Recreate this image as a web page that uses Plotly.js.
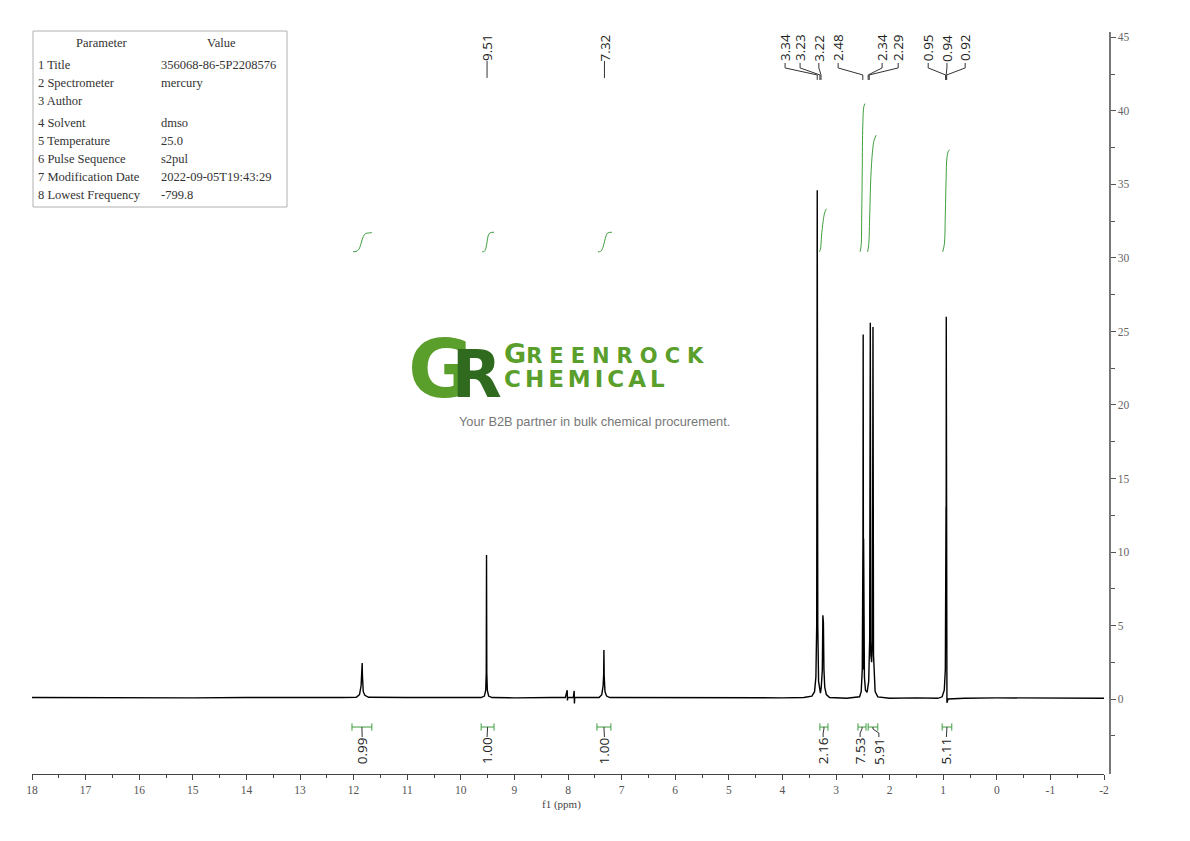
<!DOCTYPE html>
<html><head><meta charset="utf-8">
<script src="https://cdn.plot.ly/plotly-3.0.1.min.js"></script>
<style>html,body{margin:0;padding:0;background:#fff}#chart{width:1190px;height:841px}</style>
</head><body><div id="chart"></div>
<script>
// ---------- spectrum (ppm, intensity) ----------
const shift = [18.0, 17.0, 16.0, 15.0, 14.0, 13.0, 12.2, 11.95, 11.89, 11.86, 11.845, 11.84, 11.835, 11.82, 11.79, 11.72, 11.0, 10.3, 9.62, 9.56, 9.535, 9.525, 9.52, 9.515, 9.505, 9.48, 9.42, 9.0, 8.3, 8.05, 8.015, 8.01, 8.005, 7.9, 7.885, 7.88, 7.875, 7.86, 7.6, 7.42, 7.37, 7.345, 7.335, 7.33, 7.325, 7.31, 7.28, 7.22, 6.0, 5.0, 4.0, 3.6, 3.45, 3.40, 3.375, 3.36, 3.35, 3.34, 3.325, 3.29, 3.275, 3.255, 3.245, 3.24, 3.235, 3.225, 3.21, 3.18, 3.12, 2.8, 2.56, 2.53, 2.51, 2.497, 2.495, 2.493, 2.491, 2.489, 2.487, 2.485, 2.47, 2.45, 2.42, 2.39, 2.372, 2.36, 2.35, 2.335, 2.32, 2.31, 2.30, 2.29, 2.27, 2.22, 2.0, 1.5, 1.1, 1.02, 0.98, 0.96, 0.947, 0.945, 0.943, 0.941, 0.939, 0.937, 0.935, 0.93, 0.91, 0.6, 0.0, -1.0, -2.0];
const intensity = [0.1, 0.08, 0.1, 0.08, 0.1, 0.08, 0.1, 0.12, 0.3, 0.9, 1.6, 2.45, 1.6, 0.5, 0.25, 0.12, 0.1, 0.12, 0.1, 0.2, 0.6, 1.8, 9.8, 1.8, 0.6, 0.2, 0.1, 0.08, 0.1, 0.1, 0.6, -0.1, 0.1, 0.1, 0.55, -0.3, 0.1, 0.1, 0.08, 0.1, 0.3, 0.9, 1.6, 3.33, 1.6, 0.5, 0.2, 0.1, 0.08, 0.1, 0.08, 0.1, 0.2, 0.5, 1.5, 5.0, 34.6, 5.0, 1.2, 0.4, 0.8, 2.0, 5.7, 3.9, 5.2, 2.0, 0.8, 0.3, 0.1, 0.05, 0.15, 0.5, 2.0, 10.9, 2.0, 24.8, 2.5, 15.9, 2.0, 10.9, 1.5, 0.6, 0.45, 1.2, 4.0, 25.6, 3.0, 2.5, 4.0, 25.3, 3.0, 1.5, 0.5, 0.15, 0.05, 0.08, 0.05, 0.15, 0.6, 2.0, 13.1, 6.9, 26.0, 6.9, 13.1, 6.9, 2.0, -0.25, 0.0, 0.05, 0.08, 0.05, 0.05];

// ---------- integral curves (green) ----------
const integralCurveX = [
  [12.01, 11.95, 11.90, 11.86, 11.82, 11.78, 11.72, 11.66],
  [9.60, 9.56, 9.53, 9.51, 9.49, 9.46, 9.38],
  [7.44, 7.39, 7.35, 7.32, 7.29, 7.26, 7.18],
  [3.31, 3.29, 3.27, 3.24, 3.21, 3.18],
  [2.55, 2.53, 2.52, 2.51, 2.50, 2.48, 2.46],
  [2.41, 2.39, 2.37, 2.35, 2.32, 2.29, 2.25],
  [1.01, 0.98, 0.96, 0.945, 0.93, 0.90, 0.88]
];
const integralCurveY = [
  [30.42, 30.45, 30.6, 31.0, 31.45, 31.65, 31.7, 31.72],
  [30.42, 30.45, 30.7, 31.1, 31.5, 31.7, 31.75],
  [30.42, 30.45, 30.7, 31.1, 31.5, 31.7, 31.75],
  [30.42, 30.6, 31.5, 32.5, 33.1, 33.35],
  [30.42, 30.9, 33.0, 36.0, 39.0, 40.3, 40.5],
  [30.42, 30.9, 33.0, 35.5, 37.2, 38.0, 38.35],
  [30.42, 30.9, 33.0, 35.5, 36.8, 37.3, 37.35]
];

// ---------- integral ranges and values ----------
const integralFrom = [12.03, 9.62, 7.46, 3.30, 2.59, 2.40, 1.02];
const integralTo   = [11.66, 9.38, 7.20, 3.15, 2.44, 2.22, 0.84];
const integralValue = ['0.99', '1.00', '1.00', '2.16', '7.53', '5.91', '5.11'];
const integralLabelPpm = [11.84, 9.51, 7.32, 3.24, 2.55, 2.20, 0.94];

// ---------- peak picks ----------
const peakLabels   = ['9.51', '7.32', '3.34', '3.23', '3.22', '2.48', '2.34', '2.29', '0.95', '0.94', '0.92'];
const peakLabelPpm = [9.51, 7.32, 3.95, 3.67, 3.32, 2.96, 2.14, 1.84, 1.28, 0.93, 0.59];
const peakPpm      = [9.51, 7.32, 3.35, 3.30, 3.28, 2.50, 2.40, 2.38, 0.955, 0.945, 0.935];

// ---------- axes ----------
const xTickVals = [18, 17, 16, 15, 14, 13, 12, 11, 10, 9, 8, 7, 6, 5, 4, 3, 2, 1, 0, -1, -2];
const xTickText = ['18', '17', '16', '15', '14', '13', '12', '11', '10', '9', '8', '7', '6', '5', '4', '3', '2', '1', '0', '-1', '-2'];
const yTickVals = [0, 5, 10, 15, 20, 25, 30, 35, 40, 45];
const yTickText = ['0', '5', '10', '15', '20', '25', '30', '35', '40', '45'];
const yMinorVals = [-2.5, 2.5, 7.5, 12.5, 17.5, 22.5, 27.5, 32.5, 37.5, 42.5];
const xMinorVals = [17.5, 16.5, 15.5, 14.5, 13.5, 12.5, 11.5, 10.5, 9.5, 8.5, 7.5, 6.5, 5.5, 4.5, 3.5, 2.5, 1.5, 0.5, -0.5, -1.5];

// ---------- parameter table ----------
const paramNames  = ['1 Title', '2 Spectrometer', '3 Author', '4 Solvent', '5 Temperature', '6 Pulse Sequence', '7 Modification Date', '8 Lowest Frequency'];
const paramValues = ['356068-86-5P2208576', 'mercury', '', 'dmso', '25.0', 's2pul', '2022-09-05T19:43:29', '-799.8'];

// ---------- layout helpers (pixel positions only) ----------
const W = 1190, H = 841, ML = 32, MR = 81, MT = 32, MB = 67;
const PW = W - ML - MR, PH = H - MT - MB;
const px = v => (v - ML) / PW;
const py = v => (H - MB - v) / PH;
const yOfPx = v => (699 - v) / 14.7;

const traces = [];
traces.push({x: shift, y: intensity, type: 'scatter', mode: 'lines',
  line: {color: '#000', width: 1.4}, hoverinfo: 'skip', showlegend: false});

for (let i = 0; i < integralCurveX.length; i++) {
  traces.push({x: integralCurveX[i], y: integralCurveY[i], type: 'scatter', mode: 'lines',
    line: {color: '#3f9e3f', width: 1, shape: 'spline'}, hoverinfo: 'skip', showlegend: false});
}

// integral brackets
const bx = [], by = [];
const cx = [], cy = [];
const yb = yOfPx(727), tk = 0.25;
for (let i = 0; i < integralFrom.length; i++) {
  const a = integralFrom[i], b = integralTo[i], m = (a + b) / 2;
  bx.push(a, a, null, a, b, null, b, b, null);
  by.push(yb + tk, yb - tk, null, yb, yb, null, yb + tk, yb - tk, null);
  cx.push(m, m, integralLabelPpm[i], integralLabelPpm[i], null);
  cy.push(yb, yOfPx(729), yOfPx(733), yOfPx(737), null);
}
traces.push({x: bx, y: by, type: 'scatter', mode: 'lines', line: {color: '#3f9e3f', width: 1}, hoverinfo: 'skip', showlegend: false});
traces.push({x: cx, y: cy, type: 'scatter', mode: 'lines', line: {color: '#333', width: 1}, hoverinfo: 'skip', showlegend: false});

// peak connectors
const kx = [], ky = [];
for (let i = 0; i < peakLabels.length; i++) {
  if (peakLabelPpm[i] === peakPpm[i]) {
    kx.push(peakPpm[i], peakPpm[i], null);
    ky.push(yOfPx(61), yOfPx(78), null);
  } else {
    kx.push(peakLabelPpm[i], peakLabelPpm[i], peakPpm[i], peakPpm[i], null);
    ky.push(yOfPx(63), yOfPx(68), yOfPx(75), yOfPx(80), null);
  }
}
traces.push({x: kx, y: ky, type: 'scatter', mode: 'lines', line: {color: '#333', width: 1}, hoverinfo: 'skip', showlegend: false});

const ann = [];
const labFont = {family: 'Open Sans, Liberation Sans, sans-serif', size: 13.5, color: '#222'};
for (let i = 0; i < peakLabels.length; i++) {
  ann.push({x: peakLabelPpm[i], y: yOfPx(48), xref: 'x', yref: 'y', text: peakLabels[i], textangle: -90,
    showarrow: false, xanchor: 'center', yanchor: 'middle', font: labFont});
}
for (let i = 0; i < integralValue.length; i++) {
  ann.push({x: integralLabelPpm[i], y: yOfPx(751), xref: 'x', yref: 'y', text: integralValue[i], textangle: -90,
    showarrow: false, xanchor: 'center', yanchor: 'middle', font: labFont});
}

// table
const tFont = {family: 'Liberation Serif, serif', size: 12.5, color: '#333'};
ann.push({x: px(102), y: py(43), xref: 'paper', yref: 'paper', text: 'Parameter', showarrow: false, xanchor: 'center', yanchor: 'middle', font: tFont});
ann.push({x: px(221), y: py(43), xref: 'paper', yref: 'paper', text: 'Value', showarrow: false, xanchor: 'center', yanchor: 'middle', font: tFont});
const rowY = [65, 83, 101, 123, 141, 159, 177, 195];
for (let i = 0; i < paramNames.length; i++) {
  ann.push({x: px(36), y: py(rowY[i]), xref: 'paper', yref: 'paper', text: paramNames[i], showarrow: false, xanchor: 'left', yanchor: 'middle', font: tFont});
  if (paramValues[i]) ann.push({x: px(159), y: py(rowY[i]), xref: 'paper', yref: 'paper', text: paramValues[i], showarrow: false, xanchor: 'left', yanchor: 'middle', font: tFont});
}

// axis title
ann.push({x: px(561), y: py(804), xref: 'paper', yref: 'paper', text: 'f1 (ppm)', showarrow: false, xanchor: 'center', yanchor: 'middle',
  font: {family: 'Liberation Serif, serif', size: 11, color: '#444'}});

// logo
ann.push({x: px(407), y: py(370), xref: 'paper', yref: 'paper',
  text: "<b><span style='letter-spacing:-22px'>G</span><span style='font-size:65px;fill:#2f6a1f'>R</span></b>",
  showarrow: false, xanchor: 'left', yanchor: 'middle', borderpad: 0,
  font: {family: 'DejaVu Sans, sans-serif', size: 80, color: '#5a9e2b'}});
ann.push({x: px(503), y: py(365), xref: 'paper', yref: 'paper', align: 'left', borderpad: 0,
  text: "<b><span style='font-size:27px'>G</span><span style='font-size:21px;letter-spacing:7px'>REENROC</span><span style='font-size:21px'>K</span><br><span style='font-size:23px;letter-spacing:4px'>CHEMICA</span><span style='font-size:23px'>L</span></b>",
  showarrow: false, xanchor: 'left', yanchor: 'middle',
  font: {family: 'DejaVu Sans, sans-serif', size: 18.5, color: '#5a9e2b'}});
ann.push({x: px(594), y: py(421), xref: 'paper', yref: 'paper', text: 'Your B2B partner in bulk chemical procurement.', showarrow: false, xanchor: 'center', yanchor: 'middle',
  font: {family: 'Liberation Sans, Arial, sans-serif', size: 12.8, color: '#777'}});

const layout = {
  width: W, height: H,
  margin: {l: ML, r: MR, t: MT, b: MB, pad: 0},
  paper_bgcolor: '#fff', plot_bgcolor: '#fff',
  showlegend: false,
  xaxis: {
    domain: [0, 1072 / PW], range: [18, -2], autorange: false,
    showgrid: false, zeroline: false, showline: true, linecolor: '#444', linewidth: 1,
    ticks: 'outside', ticklen: 5, tickcolor: '#444', tickwidth: 1,
    tickmode: 'array', tickvals: xTickVals, ticktext: xTickText,
    tickfont: {family: 'Liberation Serif, serif', size: 11.5, color: '#555'},
    minor: {tickmode: 'array', tickvals: xMinorVals, ticks: 'outside', ticklen: 3, tickcolor: '#444', showgrid: false},
    anchor: 'y'
  },
  yaxis: {
    range: [-5.10, 45.37], autorange: false, side: 'right', anchor: 'free', position: 1,
    showgrid: false, zeroline: false, showline: true, linecolor: '#777', linewidth: 1.5,
    ticks: 'outside', ticklen: 5, tickcolor: '#555', tickwidth: 1,
    tickmode: 'array', tickvals: yTickVals, ticktext: yTickText,
    tickfont: {family: 'Liberation Serif, serif', size: 11.5, color: '#666'},
    minor: {tickmode: 'array', tickvals: yMinorVals, ticks: 'outside', ticklen: 4, tickcolor: '#555', showgrid: false}
  },
  shapes: [
    {type: 'rect', xref: 'paper', yref: 'paper', x0: px(33), x1: px(287), y0: py(31), y1: py(207),
      line: {color: '#b0b0b0', width: 1}, fillcolor: 'rgba(0,0,0,0)'}
  ],
  annotations: ann
};

Plotly.newPlot('chart', traces, layout, {displayModeBar: false, staticPlot: true});
</script>
</body></html>
